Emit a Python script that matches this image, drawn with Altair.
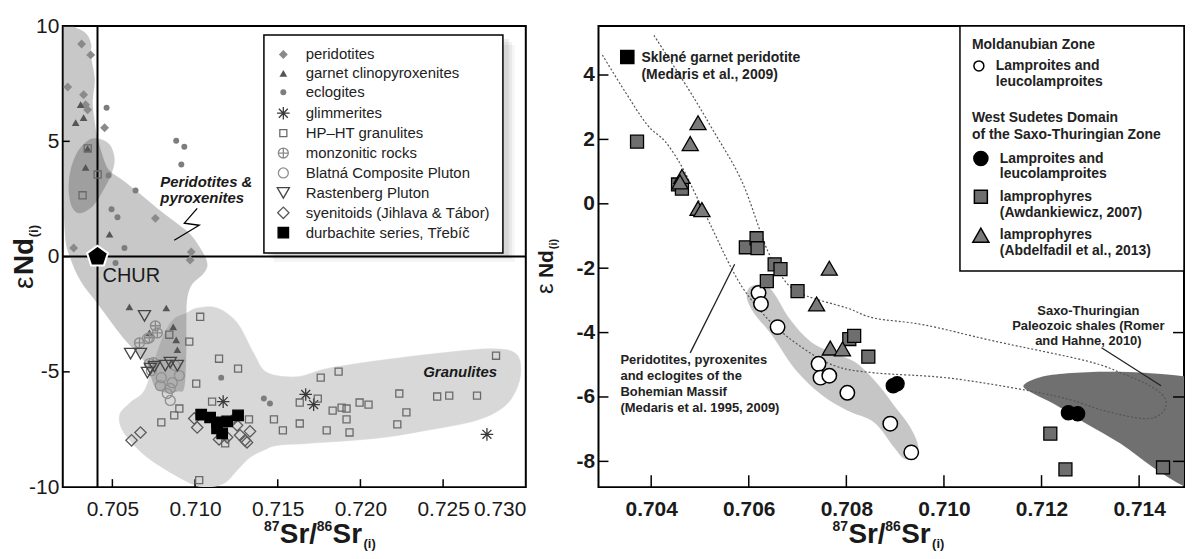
import altair as alt
import pandas as pd

FONT = "Liberation Sans"
TXT = "#1a1a1a"
one = pd.DataFrame({"a": [0]})

# ================= LEFT PANEL DATA =================
L_XDOM = [0.702, 0.730]
L_YDOM = [-10, 10]
L_XTICKS = [0.705, 0.710, 0.715, 0.720, 0.725, 0.730]
L_YTICKS = [-10, -5, 0, 5, 10]

types = ["peridotites", "garnet clinopyroxenites", "eclogites", "glimmerites",
         "HP–HT granulites", "monzonitic rocks", "Blatná Composite Pluton",
         "Rastenberg Pluton", "syenitoids (Jihlava & Tábor)", "durbachite series, Třebíč"]

per_x = [0.70314, 0.70369, 0.70230, 0.70326, 0.70338, 0.70350, 0.70453, 0.70760, 0.70266, 0.70977, 0.70970]
per_y = [9.22, 8.75, 7.36, 7.02, 6.59, 6.37, 5.59, 1.66, 0.37, 0.20, -0.15]
gcp_x = [0.70308, 0.70326, 0.70278, 0.70350, 0.70338, 0.70483, 0.70603, 0.70826, 0.70724, 0.70868, 0.70886, 0.70893]
gcp_y = [6.59, 6.03, 5.81, 4.69, 3.87, 0.97, -2.18, -2.23, -3.31, -3.05, -3.61, -4.04]
ecl_x = [0.70465, 0.70886, 0.70935, 0.70917, 0.70640, 0.70477, 0.70495, 0.70531, 0.70573, 0.70519, 0.71158, 0.71416, 0.71453]
ecl_y = [6.46, 5.03, 4.77, 4.00, 2.87, 3.52, 2.05, 1.71, 0.37, -0.28, -5.25, -6.16, -6.37]
gli_x = [0.71170, 0.71669, 0.71717, 0.72765]
gli_y = [-6.29, -5.98, -6.42, -7.71]
gra_x = [0.70351, 0.70411, 0.70320, 0.71031, 0.70965, 0.71145, 0.71260, 0.71007, 0.71103, 0.70905,
         0.70874, 0.70796, 0.71326, 0.71477, 0.71531, 0.71182, 0.71025, 0.70844, 0.71633, 0.71633,
         0.71742, 0.71760, 0.71868, 0.71832, 0.71886, 0.71916, 0.71916, 0.71796, 0.71934, 0.71995,
         0.72049, 0.72235, 0.72278, 0.72223, 0.72464, 0.72537, 0.72705, 0.72820]
gra_y = [4.69, 3.56, 2.66, -2.61, -3.69, -4.43, -4.86, -5.51, -6.29, -6.59,
         -6.89, -7.19, -7.06, -7.06, -7.54, -8.10, -9.70, -3.39, -7.24, -6.33,
         -6.16, -5.25, -4.99, -6.68, -6.55, -6.59, -7.06, -7.54, -7.63, -6.33,
         -6.42, -5.94, -6.76, -7.28, -6.07, -6.03, -6.03, -4.30]
mon_x = [0.70760, 0.70772, 0.70664, 0.70724, 0.70748]
mon_y = [-3.00, -3.31, -3.74, -3.52, -4.60]
bla_x = [0.70712, 0.70724, 0.70736, 0.70796, 0.70790, 0.70832, 0.70850, 0.70905, 0.70880, 0.70862, 0.70850]
bla_y = [-3.56, -4.64, -4.95, -5.25, -5.60, -5.94, -6.24, -5.16, -4.73, -5.47, -5.72]
ras_x = [0.70694, 0.70610, 0.70670, 0.70730, 0.70754, 0.70820, 0.70850, 0.70893, 0.70712]
ras_y = [-2.57, -4.21, -4.21, -4.86, -4.77, -4.73, -4.60, -4.73, -5.03]
sye_x = [0.70616, 0.70670, 0.70995, 0.71013, 0.71145, 0.71194, 0.71254, 0.71302, 0.71332, 0.71272, 0.71224, 0.71314]
sye_y = [-7.97, -7.63, -7.02, -7.41, -7.93, -7.84, -7.32, -7.97, -7.58, -7.75, -7.11, -8.06]
dur_x = [0.71037, 0.71091, 0.71133, 0.71133, 0.71164, 0.71260, 0.71194]
dur_y = [-6.85, -6.98, -7.19, -7.45, -7.67, -6.89, -7.15]

ASTER = "M-1,0L1,0M0,-1L0,1M-0.71,-0.71L0.71,0.71M-0.71,0.71L0.71,-0.71"
CPLUS = "M-1,0A1,1,0,1,0,1,0A1,1,0,1,0,-1,0M-1,0L1,0M0,-1L0,1"
PENT = "M0,-1L0.951,-0.309L0.588,0.809L-0.588,0.809L-0.951,-0.309Z"
l_shapes = ["diamond", "triangle-up", "circle", ASTER, "square", CPLUS, "circle",
            "triangle-down", "diamond", "square"]
l_fills = ["#8a8a8a", "#555555", "#7d7d7d", "transparent", "transparent", "transparent",
           "transparent", "transparent", "transparent", "#000000"]
l_strokes = ["transparent", "transparent", "transparent", "#3a3a3a", "#6a6a6a", "#8a8a8a",
             "#8f8f8f", "#444444", "#5a5a5a", "#000000"]
l_sizes = [80, 60, 36, 160, 50, 100, 100, 150, 130, 110]

# region outlines (left)
gran_px = [0.70941, 0.71013, 0.71133, 0.71254, 0.71356, 0.71435, 0.71615, 0.71796, 0.72097, 0.72500,
           0.72802, 0.72940, 0.72970, 0.72940, 0.72862, 0.72699, 0.72398, 0.72097, 0.71693, 0.71495,
           0.71416, 0.71332, 0.71254, 0.71176, 0.71055, 0.70935, 0.70712, 0.70573, 0.70543, 0.70609,
           0.70694, 0.70754, 0.70814, 0.70874]
gran_py = [-2.48, -2.23, -2.23, -2.87, -4.21, -5.03, -5.21, -4.86, -4.52, -4.17,
           -4.00, -4.21, -4.95, -5.81, -6.55, -7.11, -7.54, -7.88, -8.10, -8.19,
           -8.40, -8.71, -9.27, -9.83, -10.0, -9.70, -8.71, -7.67, -6.89, -6.33,
           -5.81, -4.52, -3.35, -2.70]
perp_px = [0.70200, 0.70284, 0.70345, 0.70372, 0.70369, 0.70393, 0.70381, 0.70393, 0.70411, 0.70453,
           0.70489, 0.70573, 0.70670, 0.70772, 0.70874, 0.70971, 0.71031, 0.71067, 0.71073, 0.71043,
           0.70983, 0.70953, 0.70947, 0.70947, 0.70935, 0.70893, 0.70820, 0.70760, 0.70724, 0.70682,
           0.70591, 0.70501, 0.70411, 0.70308, 0.70242, 0.70212, 0.70200]
perp_py = [10.0, 9.91, 9.65, 9.20, 8.75, 7.71, 6.72, 5.85, 5.12, 4.12,
           3.69, 3.26, 2.70, 2.09, 1.53, 0.97, 0.37, -0.11, -0.45, -0.80,
           -1.19, -1.79, -2.79, -4.08, -5.68, -5.85, -5.90, -5.68, -5.03, -4.43,
           -3.74, -2.92, -2.05, -1.06, 0.02, 1.10, 4.56]
ell_px = [0.70411, 0.70483, 0.70513, 0.70495, 0.70441, 0.70381, 0.70302, 0.70254, 0.70236, 0.70248, 0.70290, 0.70351]
ell_py = [5.12, 4.86, 4.25, 3.61, 2.83, 2.18, 1.88, 2.18, 2.92, 3.78, 4.56, 5.03]
bolt_x = [0.71013, 0.70935, 0.71025, 0.70874]
bolt_y = [2.09, 1.45, 1.36, 0.71]
CHUR_SR, CHUR_ND = 0.7041, 0.0

# ================= RIGHT PANEL DATA =================
R_XDOM = [0.70292, 0.71492]
R_YDOM = [-8.80, 5.52]
R_XTICKS = [0.704, 0.706, 0.708, 0.710, 0.712, 0.714]
R_YTICKS = [-8, -6, -4, -2, 0, 2, 4]

mz_x = [0.70620, 0.70625, 0.70659, 0.70743, 0.70747, 0.70765, 0.70802, 0.70890, 0.70933]
mz_y = [-2.77, -3.11, -3.83, -4.97, -5.40, -5.34, -5.87, -6.83, -7.72]
wsl_x = [0.70896, 0.70904, 0.71255, 0.71274]
wsl_y = [-5.65, -5.59, -6.49, -6.52]
awd_x = [0.70371, 0.70455, 0.70463, 0.70594, 0.70616, 0.70618, 0.70653, 0.70665, 0.70637, 0.70700,
         0.70806, 0.70816, 0.70845, 0.71218, 0.71249, 0.71449]
awd_y = [1.93, 0.60, 0.47, -1.35, -1.07, -1.38, -1.88, -2.03, -2.40, -2.71,
         -4.20, -4.10, -4.75, -7.14, -8.25, -8.19]
abd_x = [0.70496, 0.70480, 0.70463, 0.70459, 0.70496, 0.70504, 0.70765, 0.70739, 0.70767, 0.70792]
abd_y = [2.52, 1.87, 0.85, 0.68, -0.14, -0.18, -2.00, -3.11, -4.48, -4.51]
skl_x, skl_y = [0.70351], [4.56]

mz_lab = ["Lamproites and|leucolamproites"]
ws_lab = ["Lamproites and|leucolamproites ", "lamprophyres|(Awdankiewicz, 2007)",
          "lamprophyres|(Abdelfadil et al., 2013)"]

env_x = [0.70300, 0.70347, 0.70392, 0.70429, 0.70463, 0.70490, 0.70525, 0.70557, 0.70592, 0.70643,
         0.70704, 0.70776, 0.70857, 0.71020, 0.71225, 0.71327, 0.71408, 0.71445, 0.71455, 0.71429,
         0.71367, 0.71292, 0.71102, 0.70959, 0.70857, 0.70802, 0.70720, 0.70680, 0.70639, 0.70586,
         0.70525, 0.70476, 0.70404]
env_y = [4.62, 3.47, 2.45, 1.93, 1.15, 0.32, -0.76, -1.78, -2.71, -3.64,
         -4.41, -5.03, -5.25, -5.43, -5.96, -6.42, -6.67, -6.52, -6.11, -5.71,
         -5.28, -4.88, -4.26, -3.76, -3.55, -3.24, -2.87, -2.50, -1.47, 0.69,
         2.33, 3.57, 5.27]
band_x = [0.70606, 0.70643, 0.70684, 0.70725, 0.70771, 0.70820, 0.70867, 0.70898, 0.70929, 0.70947,
          0.70939, 0.70918, 0.70898, 0.70857, 0.70802, 0.70749, 0.70694, 0.70647, 0.70612, 0.70596]
band_y = [-2.56, -2.62, -3.58, -4.26, -4.63, -4.94, -5.65, -6.27, -6.89, -7.51,
          -7.88, -7.91, -7.57, -6.79, -6.42, -5.93, -5.12, -4.07, -3.42, -2.90]
td_x = [0.71163, 0.71194, 0.71245, 0.71327, 0.71408, 0.71496, 0.71570, 0.71570, 0.71496, 0.71429,
        0.71361, 0.71292, 0.71225, 0.71184]
td_y = [-5.65, -5.40, -5.28, -5.22, -5.25, -5.37, -5.56, -9.20, -8.80, -8.19,
        -7.44, -6.83, -6.21, -5.90]
ann_x = [0.70480, 0.71323]
ann_y = [-4.63, -4.47]
ann_x2 = [0.70571, 0.71445]
ann_y2 = [-1.88, -5.65]

LW, LH = 465, 463
RW, RH = 588, 463


def poly_df(xs, ys):
    return pd.DataFrame({"x": xs, "y": ys, "i": list(range(len(xs)))})


def vtext(x, y, s, size, weight="bold", angle=0, style="normal"):
    return alt.Chart(one).mark_text(
        align="left", baseline="alphabetic", font=FONT, fontSize=size, fontWeight=weight,
        fontStyle=style, angle=angle, color=TXT
    ).encode(x=alt.value(x), y=alt.value(y), text=alt.value(s))


# ---------------- LEFT ----------------
lxs = alt.Scale(domain=L_XDOM, nice=False, zero=False)
lys = alt.Scale(domain=L_YDOM, nice=False, zero=False)
lax = alt.Axis(values=L_XTICKS, format=".3f", labelFontSize=21, labelPadding=11, title=None,
               labelFontWeight="normal")
lay = alt.Axis(values=L_YTICKS, labelExpr="datum.value", labelFontSize=21, labelPadding=4,
               title=None, labelFontWeight="normal")


def LX(f="x"):
    return alt.X(f"{f}:Q", scale=lxs, axis=lax)


def LY(f="y"):
    return alt.Y(f"{f}:Q", scale=lys, axis=lay)


gran_layer = alt.Chart(poly_df(gran_px, gran_py)).mark_line(
    interpolate="cardinal-closed", fill="#d8d8d8", stroke="#d8d8d8", strokeWidth=0.5, clip=True
).encode(x=LX(), y=LY(), order="i:Q")
perp_layer = alt.Chart(poly_df(perp_px, perp_py)).mark_line(
    interpolate="cardinal-closed", fill="#676767", stroke="#676767", strokeWidth=0.1,
    opacity=0.36, clip=True
).encode(x=LX(), y=LY(), order="i:Q")
ell_layer = alt.Chart(poly_df(ell_px, ell_py)).mark_line(
    interpolate="cardinal-closed", fill="#000000", stroke="#000000", strokeWidth=0.1,
    opacity=0.2, clip=True
).encode(x=LX(), y=LY(), order="i:Q")

vline = alt.Chart(pd.DataFrame({"v": [CHUR_SR]})).mark_rule(color="black", strokeWidth=2).encode(x=LX("v"))
hline = alt.Chart(pd.DataFrame({"v": [CHUR_ND]})).mark_rule(color="black", strokeWidth=2).encode(y=LY("v"))
bolt = alt.Chart(poly_df(bolt_x, bolt_y)).mark_line(color="black", strokeWidth=1.3).encode(
    x=LX(), y=LY(), order="i:Q")

lxt = alt.Chart(pd.DataFrame({"t": L_XTICKS[:-1]})).mark_rule(color="black", strokeWidth=1.5).encode(
    x=LX("t"), y=alt.value(LH), y2=alt.value(LH - 8))
lyt = alt.Chart(pd.DataFrame({"t": [-5, 0, 5]})).mark_rule(color="black", strokeWidth=1.5).encode(
    y=LY("t"), x=alt.value(0), x2=alt.value(7))

# soft drop shadow behind the left legend box
shadow = [
    alt.Chart(one).mark_rect(fill="#000000", opacity=op).encode(
        x=alt.value(202 + o), x2=alt.value(444 + o), y=alt.value(9 + o), y2=alt.value(227 + o))
    for o, op in [(10, 0.04), (7, 0.05), (4, 0.07)]
]

rows = []
for t, xs, ys in zip(types,
                     [per_x, gcp_x, ecl_x, gli_x, gra_x, mon_x, bla_x, ras_x, sye_x, dur_x],
                     [per_y, gcp_y, ecl_y, gli_y, gra_y, mon_y, bla_y, ras_y, sye_y, dur_y]):
    for a, b in zip(xs, ys):
        rows.append((a, b, t))
sc = pd.DataFrame(rows, columns=["x", "y", "type"])

legL = alt.Legend(title=None, orient="none", legendX=202, legendY=9, padding=12,
                  strokeColor="black", fillColor="white", labelFont=FONT, labelFontSize=15,
                  labelFontWeight="normal", labelColor="#222", labelOffset=15, labelLimit=300,
                  rowPadding=3, symbolStrokeWidth=1.3)
pts = alt.Chart(sc).mark_point(filled=True, opacity=1, strokeWidth=1.3).encode(
    x=LX(), y=LY(),
    shape=alt.Shape("type:N", scale=alt.Scale(domain=types, range=l_shapes), legend=legL),
    fill=alt.Fill("type:N", scale=alt.Scale(domain=types, range=l_fills), legend=legL),
    stroke=alt.Stroke("type:N", scale=alt.Scale(domain=types, range=l_strokes), legend=legL),
    size=alt.Size("type:N", scale=alt.Scale(type="ordinal", domain=types, range=l_sizes), legend=legL),
)
chur = alt.Chart(pd.DataFrame({"x": [CHUR_SR], "y": [CHUR_ND]})).mark_point(
    shape=PENT, size=480, filled=True, fill="black", stroke="white", strokeWidth=2, opacity=1
).encode(x=LX(), y=LY())

t_per = alt.Chart(pd.DataFrame({"x": [0.7079], "y": [3.04], "s": ["Peridotites &\npyroxenites"]})).mark_text(
    align="left", baseline="alphabetic", font=FONT, fontSize=15, fontWeight="bold", fontStyle="italic",
    lineBreak="\n", lineHeight=17, color=TXT).encode(x=LX(), y=LY(), text="s:N")
t_gran = alt.Chart(pd.DataFrame({"x": [0.72603], "y": [-4.99], "s": ["Granulites"]})).mark_text(
    align="center", baseline="middle", font=FONT, fontSize=15, fontWeight="bold", fontStyle="italic",
    color=TXT).encode(x=LX(), y=LY(), text="s:N")
t_chur = alt.Chart(pd.DataFrame({"x": [0.70441], "y": [-0.84], "s": ["CHUR"]})).mark_text(
    align="left", baseline="middle", font=FONT, fontSize=20, color=TXT).encode(x=LX(), y=LY(), text="s:N")

left_titles = [
    vtext(202, 507, "87", 14), vtext(218, 519, "Sr/", 28), vtext(255, 507, "86", 14),
    vtext(271, 519, "Sr", 28), vtext(302, 524, "(i)", 13),
    vtext(-30, 264, "ε", 28, weight="normal", angle=270), vtext(-30, 250, "Nd", 28, angle=270),
    vtext(-25, 212, "(i)", 13, angle=270),
]

left = alt.layer(gran_layer, perp_layer, ell_layer, vline, hline, bolt, lxt, lyt, *shadow, pts, chur,
                 t_per, t_gran, t_chur, *left_titles).properties(width=LW, height=LH)

# ---------------- RIGHT ----------------
rxs = alt.Scale(domain=R_XDOM, nice=False, zero=False)
rys = alt.Scale(domain=R_YDOM, nice=False, zero=False)
rax = alt.Axis(values=R_XTICKS, format=".3f", labelFontSize=21, labelFontWeight="bold",
               labelPadding=11, title=None)
ray = alt.Axis(values=R_YTICKS, labelExpr="datum.value", labelFontSize=21, labelFontWeight="bold",
               labelPadding=4, title=None)


def RX(f="x"):
    return alt.X(f"{f}:Q", scale=rxs, axis=rax)


def RY(f="y"):
    return alt.Y(f"{f}:Q", scale=rys, axis=ray)


td_layer = alt.Chart(poly_df(td_x, td_y)).mark_line(
    interpolate="cardinal-closed", fill="#707070", stroke="#707070", strokeWidth=0.1, clip=True
).encode(x=RX(), y=RY(), order="i:Q")
band_layer = alt.Chart(poly_df(band_x, band_y)).mark_line(
    interpolate="cardinal-closed", fill="#c6c6c6", stroke="#c6c6c6", strokeWidth=0.1, clip=True
).encode(x=RX(), y=RY(), order="i:Q")
env_layer = alt.Chart(poly_df(env_x, env_y)).mark_line(
    interpolate="cardinal", color="#555555", strokeWidth=1.2, strokeDash=[2, 2], clip=True
).encode(x=RX(), y=RY(), order="i:Q")
ann_layer = alt.Chart(pd.DataFrame({"x": ann_x, "y": ann_y, "x2": ann_x2, "y2": ann_y2})).mark_rule(
    color="#222", strokeWidth=1.3).encode(x=RX(), y=RY(), x2="x2:Q", y2="y2:Q")

rxt = alt.Chart(pd.DataFrame({"t": R_XTICKS})).mark_rule(color="black", strokeWidth=1.5).encode(
    x=RX("t"), y=alt.value(RH), y2=alt.value(RH - 12))
ryt = alt.Chart(pd.DataFrame({"t": R_YTICKS})).mark_rule(color="black", strokeWidth=1.5).encode(
    y=RY("t"), x=alt.value(0), x2=alt.value(10))
ryt2 = alt.Chart(pd.DataFrame({"t": [-4, -6, -8]})).mark_rule(color="black", strokeWidth=1.5).encode(
    y=RY("t"), x=alt.value(RW), x2=alt.value(RW - 11))

frame = alt.Chart(one).mark_rect(fill="white", stroke="black", strokeWidth=1.5).encode(
    x=alt.value(363), x2=alt.value(RW), y=alt.value(0), y2=alt.value(246))

leg_common = dict(orient="none", padding=0, labelFont=FONT, labelFontSize=14, labelFontWeight="bold",
                  labelColor="#222", labelExpr="split(datum.label, '|')", labelOffset=10,
                  labelLimit=300, rowPadding=5, symbolStrokeColor="black", symbolStrokeWidth=1.5,
                  titleFont=FONT, titleFontSize=14, titleFontWeight="bold", titleColor="#222",
                  titleLineHeight=17, titleLimit=400)
leg1 = alt.Legend(title="Moldanubian Zone", legendX=375, legendY=12, titlePadding=7, **leg_common)
leg2 = alt.Legend(title=["West Sudetes Domain", "of the Saxo-Thuringian Zone"], legendX=375,
                  legendY=85, titlePadding=9, **leg_common)

mz_df = pd.DataFrame({"x": mz_x, "y": mz_y, "mz": mz_lab * len(mz_x)})
mz_layer = alt.Chart(mz_df).mark_point(filled=True, opacity=1, strokeWidth=1.5, size=210).encode(
    x=RX(), y=RY(),
    shape=alt.Shape("mz:N", scale=alt.Scale(domain=mz_lab, range=["circle"]), legend=leg1),
    fill=alt.Fill("mz:N", scale=alt.Scale(domain=mz_lab, range=["white"]), legend=leg1),
    stroke=alt.Stroke("mz:N", scale=alt.Scale(domain=mz_lab, range=["black"]), legend=leg1),
)
ws_rows = []
for g, xs, ys in zip(ws_lab, [wsl_x, awd_x, abd_x], [wsl_y, awd_y, abd_y]):
    for a, b in zip(xs, ys):
        ws_rows.append((a, b, g))
ws_df = pd.DataFrame(ws_rows, columns=["x", "y", "grp"])
ws_layer = alt.Chart(ws_df).mark_point(filled=True, opacity=1, strokeWidth=1.3).encode(
    x=RX(), y=RY(),
    shape=alt.Shape("grp:N", scale=alt.Scale(domain=ws_lab, range=["circle", "square", "triangle-up"]), legend=leg2),
    fill=alt.Fill("grp:N", scale=alt.Scale(domain=ws_lab, range=["#000000", "#6e6e6e", "#7a7a7a"]), legend=leg2),
    stroke=alt.Stroke("grp:N", scale=alt.Scale(domain=ws_lab, range=["#000000", "#000000", "#000000"]), legend=leg2),
    size=alt.Size("grp:N", scale=alt.Scale(type="ordinal", domain=ws_lab, range=[200, 170, 260]), legend=leg2),
)
skl = alt.Chart(pd.DataFrame({"x": skl_x, "y": skl_y})).mark_point(
    shape="square", filled=True, fill="black", stroke="black", size=160, opacity=1).encode(x=RX(), y=RY())

txt_style = dict(font=FONT, fontWeight="bold", color="#222", lineBreak="\n")
t_skl = alt.Chart(pd.DataFrame({"x": [0.70380], "y": [4.40],
                                "s": ["Sklené garnet peridotite\n(Medaris et al., 2009)"]})).mark_text(
    align="left", baseline="alphabetic", fontSize=14, lineHeight=17, **txt_style).encode(
    x=RX(), y=RY(), text="s:N")
t_bm = alt.Chart(pd.DataFrame({"x": [0.70337], "y": [-4.97],
                               "s": ["Peridotites, pyroxenites\nand eclogites of the\nBohemian Massif\n(Medaris et al. 1995, 2009)"]})).mark_text(
    align="left", baseline="alphabetic", fontSize=13, lineHeight=16, **txt_style).encode(
    x=RX(), y=RY(), text="s:N")
t_sx = alt.Chart(pd.DataFrame({"x": [0.71296], "y": [-3.45],
                               "s": ["Saxo-Thuringian\nPaleozoic shales (Romer\nand Hahne, 2010)"]})).mark_text(
    align="center", baseline="alphabetic", fontSize=13, lineHeight=15, **txt_style).encode(
    x=RX(), y=RY(), text="s:N")

right_titles = [
    vtext(235, 507, "87", 14), vtext(251, 519, "Sr/", 28), vtext(288, 507, "86", 14),
    vtext(304, 519, "Sr", 28), vtext(335, 524, "(i)", 13),
    vtext(-46, 269, "ε", 24, weight="normal", angle=270), vtext(-46, 253, "Nd", 21, angle=270),
    vtext(-42, 224, "(i)", 11, angle=270),
]

right = alt.layer(td_layer, band_layer, env_layer, ann_layer, rxt, ryt, ryt2, frame,
                  mz_layer, ws_layer, skl, t_skl, t_bm, t_sx, *right_titles).resolve_scale(
    shape="independent", fill="independent", size="independent", stroke="independent"
).properties(width=RW, height=RH)

chart = alt.hconcat(left, right, spacing=73, bounds="flush").resolve_scale(
    x="independent", y="independent", shape="independent", fill="independent",
    stroke="independent", size="independent"
).resolve_legend(
    shape="independent", fill="independent", stroke="independent", size="independent"
).properties(
    padding={"left": 2, "top": 5, "right": 0, "bottom": 0}, background="white"
).configure_view(
    stroke="black", strokeWidth=2
).configure_axis(
    domain=False, ticks=False, grid=False, labelFont=FONT, labelColor=TXT
).configure_legend(strokeWidth=1.5)

chart.save("out.html", embed_options={"renderer": "svg", "actions": False})
